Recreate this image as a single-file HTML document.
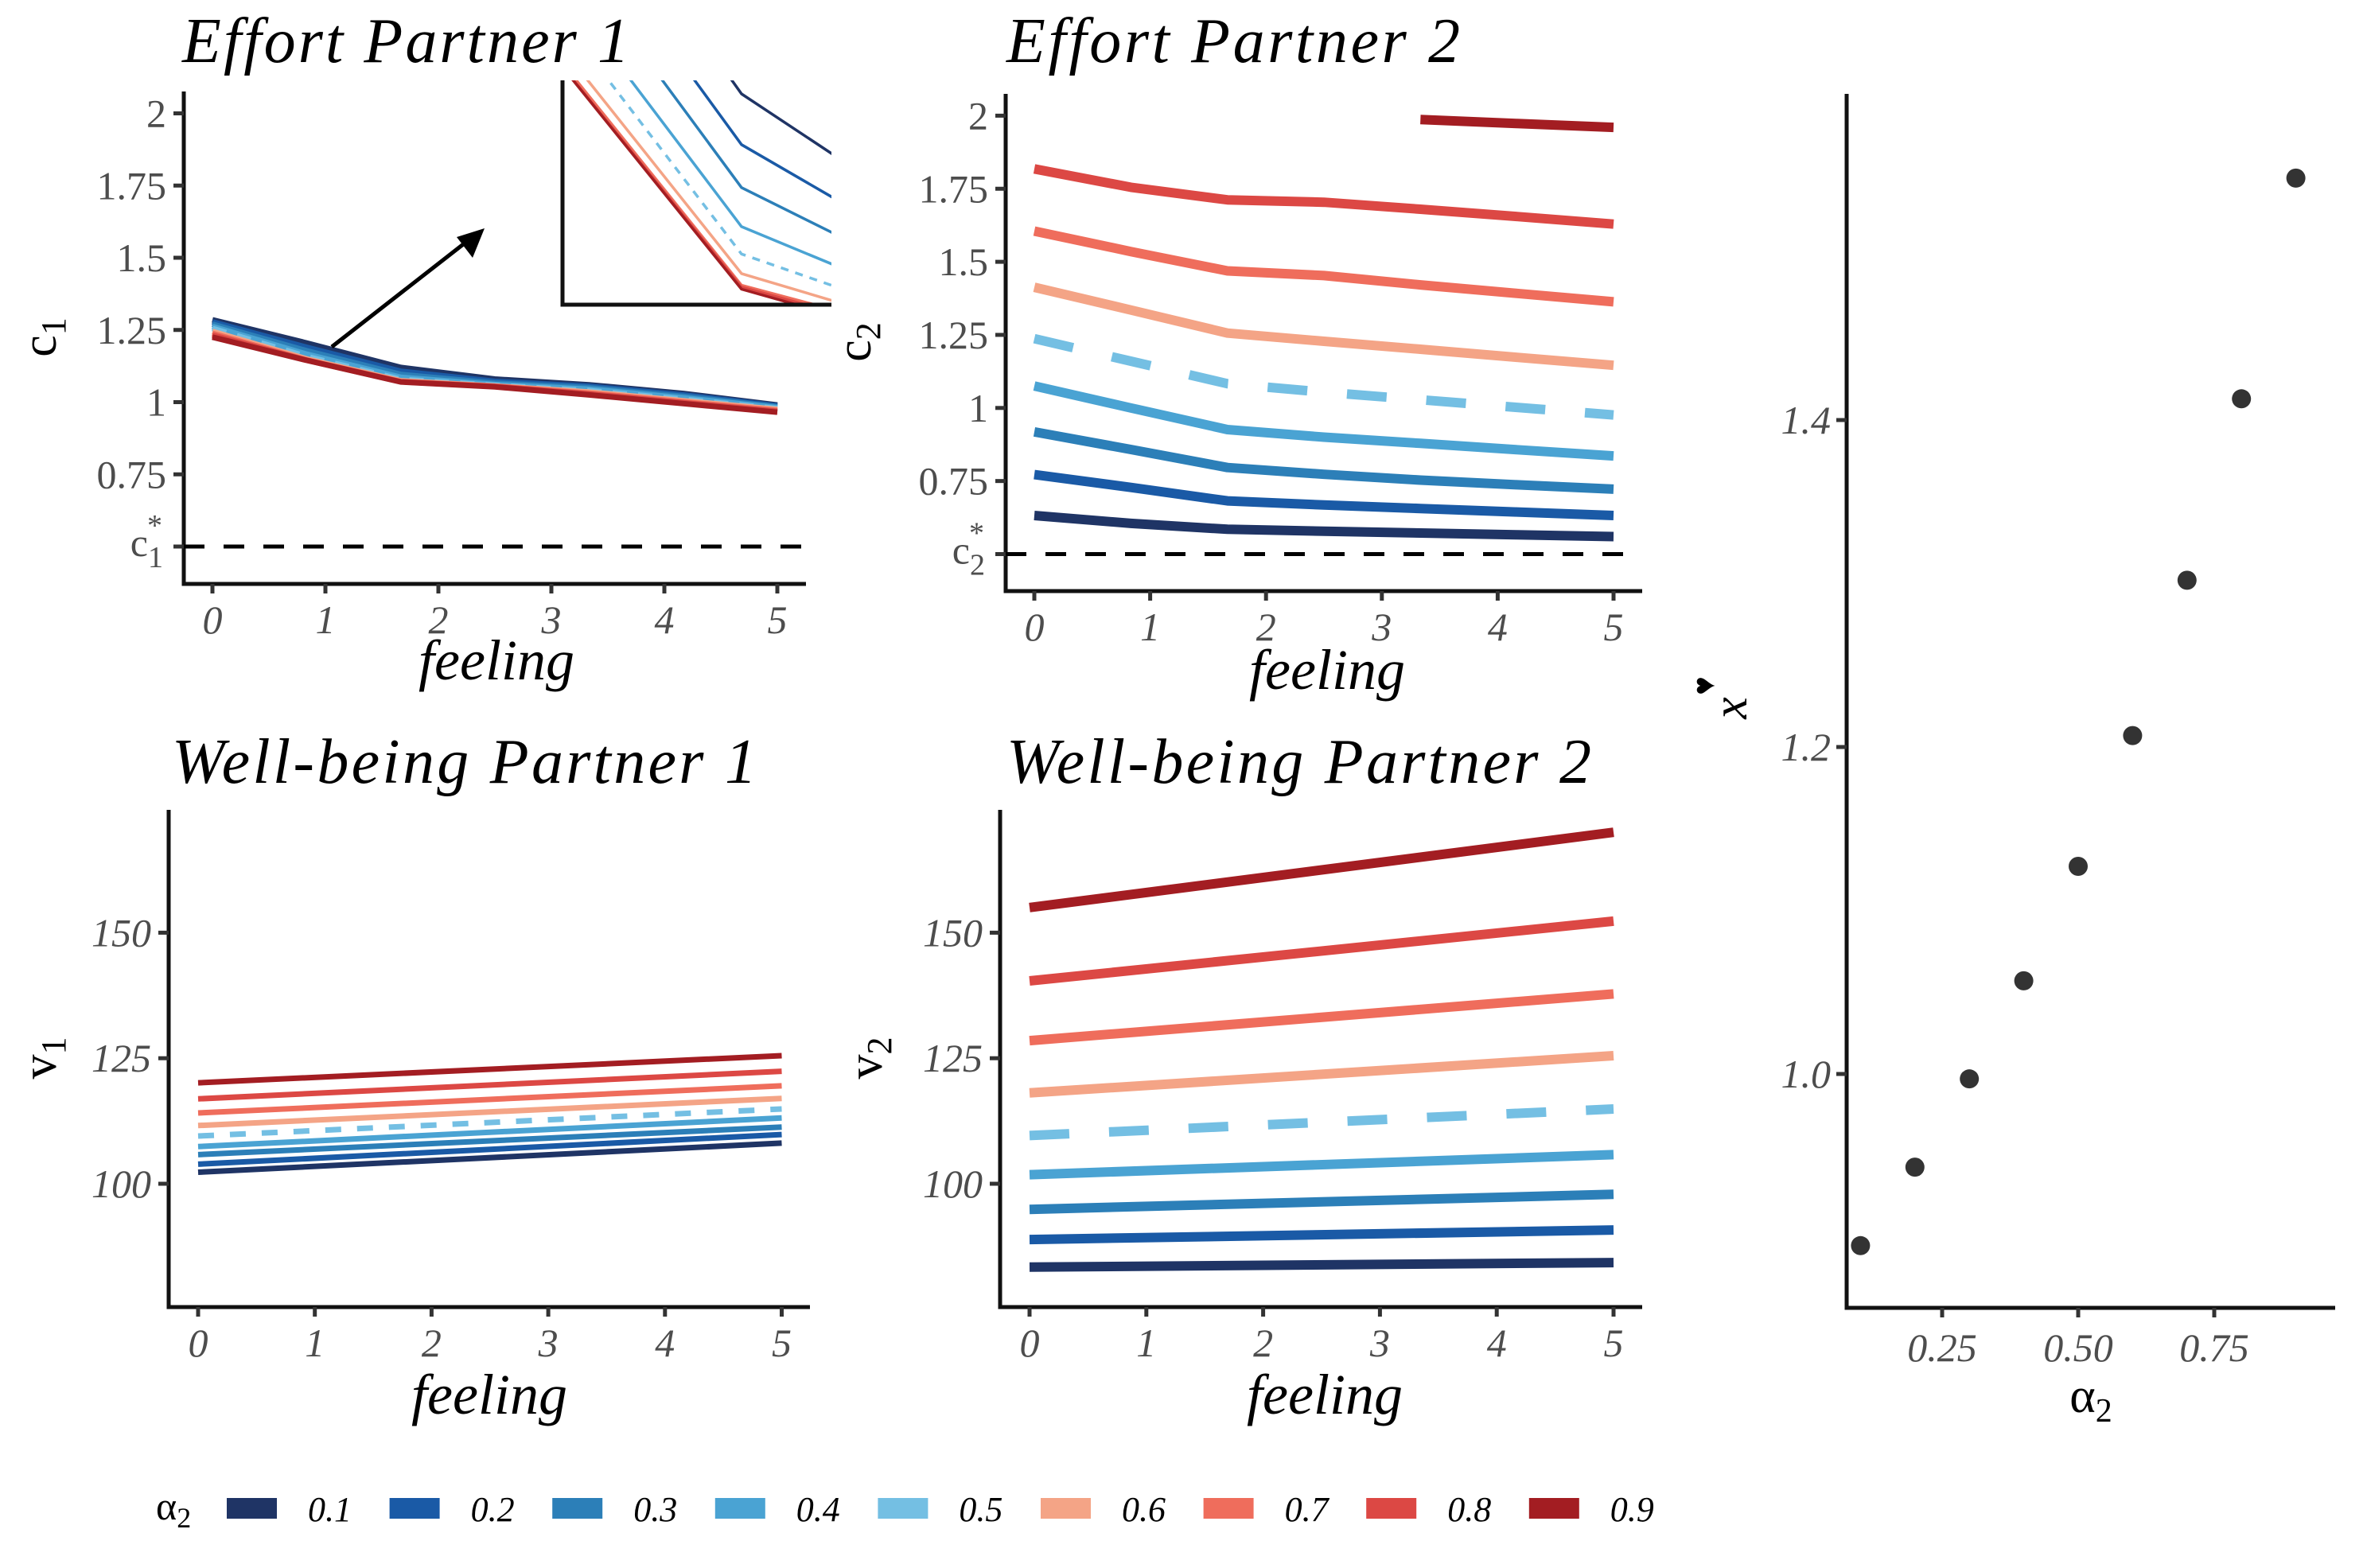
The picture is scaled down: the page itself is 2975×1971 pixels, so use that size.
<!DOCTYPE html>
<html><head><meta charset="utf-8"><style>
html,body{margin:0;padding:0;background:#fff;}
svg{display:block;}
.tt{font-family:"Liberation Serif",serif;font-style:italic;font-size:80px;fill:#000;}
.tk{font-family:"Liberation Serif",serif;font-size:50px;fill:#4d4d4d;}
.tki{font-family:"Liberation Serif",serif;font-style:italic;font-size:50px;fill:#4d4d4d;}
.ax{font-family:"Liberation Serif",serif;font-style:italic;font-size:72px;fill:#000;}
.yl{font-family:"Liberation Serif",serif;font-size:62px;fill:#000;}
.lg{font-family:"Liberation Serif",serif;font-style:italic;font-size:44px;fill:#000;}
</style></head><body>
<svg id="fig" width="2975" height="1971" viewBox="0 0 2975 1971" xmlns="http://www.w3.org/2000/svg">
<g id="layer"></g>
</svg>
<script>
// ---------- data ----------
const alphas = [0.1,0.2,0.3,0.4,0.5,0.6,0.7,0.8,0.9];
const alphaLabels = ["0.1","0.2","0.3","0.4","0.5","0.6","0.7","0.8","0.9"];
const feelingGrid = [0,0.833,1.667,2.5,3.333,4.167,5];
const effortP1 = [
 [1.285,1.205,1.120,1.080,1.060,1.030,0.990],
 [1.278,1.190,1.107,1.072,1.055,1.025,0.987],
 [1.270,1.178,1.096,1.066,1.050,1.020,0.984],
 [1.262,1.166,1.086,1.061,1.045,1.015,0.981],
 [1.255,1.158,1.079,1.058,1.040,1.010,0.978],
 [1.245,1.150,1.074,1.056,1.035,1.005,0.975],
 [1.238,1.146,1.071,1.055,1.031,1.001,0.971],
 [1.232,1.145,1.0705,1.054,1.028,0.998,0.968],
 [1.225,1.145,1.070,1.053,1.025,0.995,0.965]
];
const effortP2 = [
 [0.632,0.605,0.585,0.578,0.572,0.566,0.560],
 [0.772,0.728,0.682,0.668,0.656,0.644,0.632],
 [0.918,0.858,0.796,0.773,0.753,0.737,0.722],
 [1.075,1.000,0.926,0.900,0.879,0.857,0.836],
 [1.237,1.160,1.083,1.054,1.028,1.002,0.976],
 [1.413,1.335,1.256,1.228,1.201,1.173,1.146],
 [1.605,1.535,1.469,1.453,1.421,1.392,1.363],
 [1.818,1.755,1.712,1.704,1.680,1.655,1.629],
 [null,null,null,null,1.987,1.973,1.960]
];
const wbFeeling = [0,5];
const wellbeingP1 = [[102.3,108.1],[103.9,109.8],[105.8,111.3],[107.4,113.1],[109.5,114.9],[111.6,117.0],[114.1,119.5],[116.9,122.4],[120.1,125.5]];
const wellbeingP2 = [[83.4,84.3],[88.9,90.8],[94.9,97.9],[101.8,105.8],[109.6,114.9],[118.1,125.5],[128.5,137.8],[140.4,152.3],[155.0,170.0]];
const xStar = [0.895,0.943,0.997,1.057,1.127,1.207,1.302,1.413,1.548];
const effortTicks = [0.5,0.75,1,1.25,1.5,1.75,2];
const effortTickLabels = ["","0.75","1","1.25","1.5","1.75","2"];
const feelTicks = [0,1,2,3,4,5];
const wbTicks = [100,125,150];
const xsXTicks = [0.25,0.5,0.75];
const xsXTickLabels = ["0.25","0.50","0.75"];
const xsYTicks = [1.0,1.2,1.4];
const xsYTickLabels = ["1.0","1.2","1.4"];
const colors = ["#1f3465","#1a5aa6","#2c7fb8","#4aa3d3","#74bfe3","#f4a486","#ef6d5c","#dc4844","#a31d22"];

// ---------- helpers ----------
const NS="http://www.w3.org/2000/svg";
const root=document.getElementById('layer');
function mk(tag,attrs,parent,text){const e=document.createElementNS(NS,tag);for(const k in attrs)e.setAttribute(k,attrs[k]);if(text!==undefined)e.textContent=text;(parent||root).appendChild(e);return e;}
function lin(d0,d1,r0,r1){return v=>r0+(v-d0)*(r1-r0)/(d1-d0);}

function panel(name,o){
  const g=mk('g',{});
  
  
  const t=mk('text',{x:o.titleX,y:o.titleY,class:'tt'},g,o.title);
  
  
  const ya=mk('line',{x1:o.L,y1:o.T,x2:o.L,y2:o.B+2.5,stroke:'#111','stroke-width':5},g);
  
  
  const xa=mk('line',{x1:o.L-2.5,y1:o.B,x2:o.R,y2:o.B,stroke:'#111','stroke-width':5},g);
  
  
  return g;
}
function xTicks(g,xs,B,ticks,labels,cls,baseline){
  ticks.forEach((v,i)=>{
    const x=xs(v);
    mk('line',{x1:x,y1:B,x2:x,y2:B+12,stroke:'#333','stroke-width':5},g);
    const t=mk('text',{x:x,y:baseline,class:cls,'text-anchor':'middle'},g,labels[i]);
    
    
  });
}
function yTicks(g,ys,L,ticks,labels,cls,dx){
  ticks.forEach((v,i)=>{
    const y=ys(v);
    mk('line',{x1:L-13,y1:y,x2:L,y2:y,stroke:'#333','stroke-width':5},g);
    if(labels[i]!==""){
      const t=mk('text',{x:L-dx,y:y+17,class:cls,'text-anchor':'end'},g,labels[i]);
      
      
    }
  });
}
function series(g,xsArr,vals,xs,ys,i,w,dash){
  let pts=[];
  vals.forEach((v,j)=>{if(v!==null)pts.push(xs(xsArr[j]).toFixed(1)+','+ys(v).toFixed(1));});
  const p=mk('polyline',{points:pts.join(' '),fill:'none',stroke:colors[i],'stroke-width':w,'stroke-linejoin':'round'},g);
  if(i===4)p.setAttribute('stroke-dasharray',dash);
  
  
  return p;
}
function yLabel(g,x,y,main,sub){
  const t=mk('text',{x:0,y:0,class:'yl',transform:`translate(${x},${y}) rotate(-90)`,'text-anchor':'middle'},g);
  
  
  mk('tspan',{},t,main);
  mk('tspan',{'font-size':44,dy:12},t,sub);
}
function starLabel(g,x,y,sub){
  const t=mk('text',{x:x,y:y,class:'tk','text-anchor':'end'},g);
  
  
  mk('tspan',{},t,'c');
  mk('tspan',{'font-size':38,dy:14},t,sub);
  mk('tspan',{'font-size':38,dx:-20,dy:-40},t,'*');
}

// ---------- Effort Partner 1 ----------
(function(){
  const o={L:231,T:115,B:734,R:1013,title:'Effort Partner 1',titleX:229,titleY:78};
  const g=panel('effort-partner-1',o);
  g.querySelector('text').setAttribute('textLength',562);
  const xs=lin(0,5,267,977), ys=lin(1,2,505.5,142.5);
  yTicks(g,ys,o.L,effortTicks,effortTickLabels,'tk',22);
  starLabel(g,205,ys(0.5)+12,'1');
  xTicks(g,xs,o.B,feelTicks,feelTicks.map(String),'tki',796);
  const c=mk('line',{x1:o.L,y1:ys(0.5),x2:1009,y2:ys(0.5),stroke:'#000','stroke-width':5,'stroke-dasharray':'26,24'},g);
  
  
  effortP1.forEach((vals,i)=>series(g,feelingGrid,vals,xs,ys,i,7,'18,14'));
  const ax=mk('text',{x:624,y:854,class:'ax','text-anchor':'middle'},g,'feeling');
  
  
  yLabel(g,70,424,'c','1');
  const ar=mk('g',{},g);
  
  
  mk('line',{x1:417,y1:436,x2:590,y2:301,stroke:'#000','stroke-width':5},ar);
  mk('polygon',{points:'609,287 574,298 594,324',fill:'#000'},ar);
  const ins=mk('g',{},g);
  
  
  mk('clipPath',{id:'insclip'},ins);
  mk('rect',{x:707,y:101,width:338,height:282},document.getElementById('insclip'));
  const ixs=lin(1.667,2.667,932,1288), iys=lin(1.07,1.17,363.5,-127.5);
  const ig=mk('g',{'clip-path':'url(#insclip)'},ins);
  effortP1.forEach((vals,i)=>series(ig,feelingGrid,vals,ixs,iys,i,3.5,'10,9'));
  mk('polyline',{points:'707,101 707,383 1045,383',fill:'none',stroke:'#111','stroke-width':5},ins);
})();

// ---------- Effort Partner 2 ----------
(function(){
  const o={L:1264,T:118,B:743,R:2064,title:'Effort Partner 2',titleX:1265,titleY:78};
  const g=panel('effort-partner-2',o);
  g.querySelector('text').setAttribute('textLength',570);
  const xs=lin(0,5,1300,2028), ys=lin(0.5,2,696.5,145.4);
  yTicks(g,ys,o.L,effortTicks,effortTickLabels,'tk',22);
  starLabel(g,1238,ys(0.5)+12,'2');
  xTicks(g,xs,o.B,feelTicks,feelTicks.map(String),'tki',805);
  const c=mk('line',{x1:o.L,y1:ys(0.5),x2:2064,y2:ys(0.5),stroke:'#000','stroke-width':5,'stroke-dasharray':'26,24'},g);
  
  
  effortP2.forEach((vals,i)=>series(g,feelingGrid,vals,xs,ys,i,12,'50,50'));
  const ax=mk('text',{x:1668,y:866,class:'ax','text-anchor':'middle'},g,'feeling');
  
  
  yLabel(g,1094,430,'c','2');
})();

// ---------- Well-being Partner 1 ----------
(function(){
  const o={L:212,T:1018,B:1643,R:1018,title:'Well-being Partner 1',titleX:216,titleY:984};
  const g=panel('wellbeing-partner-1',o);
  g.querySelector('text').setAttribute('textLength',735);
  const xs=lin(0,5,249,982.5), ys=lin(100,150,1488,1172.4);
  yTicks(g,ys,o.L,wbTicks,wbTicks.map(String),'tki',22);
  xTicks(g,xs,o.B,feelTicks,feelTicks.map(String),'tki',1705);
  wellbeingP1.forEach((vals,i)=>series(g,wbFeeling,vals,xs,ys,i,7,'20,20'));
  const ax=mk('text',{x:615,y:1777,class:'ax','text-anchor':'middle'},g,'feeling');
  
  
  yLabel(g,70,1330,'v','1');
})();

// ---------- Well-being Partner 2 ----------
(function(){
  const o={L:1257,T:1018,B:1643,R:2064,title:'Well-being Partner 2',titleX:1265,titleY:984};
  const g=panel('wellbeing-partner-2',o);
  g.querySelector('text').setAttribute('textLength',735);
  const xs=lin(0,5,1294,2028), ys=lin(100,150,1488,1172.4);
  yTicks(g,ys,o.L,wbTicks,wbTicks.map(String),'tki',22);
  xTicks(g,xs,o.B,feelTicks,feelTicks.map(String),'tki',1705);
  wellbeingP2.forEach((vals,i)=>series(g,wbFeeling,vals,xs,ys,i,12,'50,50'));
  const ax=mk('text',{x:1665,y:1777,class:'ax','text-anchor':'middle'},g,'feeling');
  
  
  yLabel(g,1108,1330,'v','2');
})();

// ---------- x* vs alpha2 ----------
(function(){
  const g=mk('g',{});
  
  
  const L=2321,T=118,B=1644,R=2935;
  mk('line',{x1:L,y1:T,x2:L,y2:B+2.5,stroke:'#111','stroke-width':5},g);
  mk('line',{x1:L-2.5,y1:B,x2:R,y2:B,stroke:'#111','stroke-width':5},g);
  const xs=lin(0.25,0.5,2441,2612), ys=lin(1.0,1.4,1350,528);
  xTicks(g,xs,B,xsXTicks,xsXTickLabels,'tki',1711);
  yTicks(g,ys,L,xsYTicks,xsYTickLabels,'tki',20);
  alphas.forEach((a,i)=>{
    const c=mk('circle',{cx:xs(a),cy:ys(xStar[i]),r:12,fill:'#333'},g);
    
    
  });
  const xl=mk('text',{x:2628,y:1775,class:'yl','text-anchor':'middle'},g);
  
  
  mk('tspan',{},xl,'α');
  mk('tspan',{'font-size':42,dy:12},xl,'2');
  const yl=mk('text',{x:0,y:0,class:'yl','font-style':'italic',transform:'translate(2195,890) rotate(-90)','text-anchor':'middle'},g,'x');
  
  
  mk('text',{x:0,y:0,'font-size':40,fill:'#000',transform:'translate(2155,862) rotate(-90)','text-anchor':'middle'},g,'♥');
})();

// ---------- legend ----------
(function(){
  const g=mk('g',{});
  
  
  const tl=mk('text',{x:196,y:1910,class:'yl'},g);
  
  
  mk('tspan',{'font-size':50},tl,'α');
  mk('tspan',{'font-size':36,dy:10},tl,'2');
  alphas.forEach((a,i)=>{
    const x0=285+i*204.6;
    const e=mk('g',{},g);
    
    
    mk('rect',{x:x0,y:1883,width:63,height:26,fill:colors[i]},e);
    mk('text',{x:x0+102,y:1912,class:'lg'},e,alphaLabels[i]);
  });
})();
</script>
</body></html>
